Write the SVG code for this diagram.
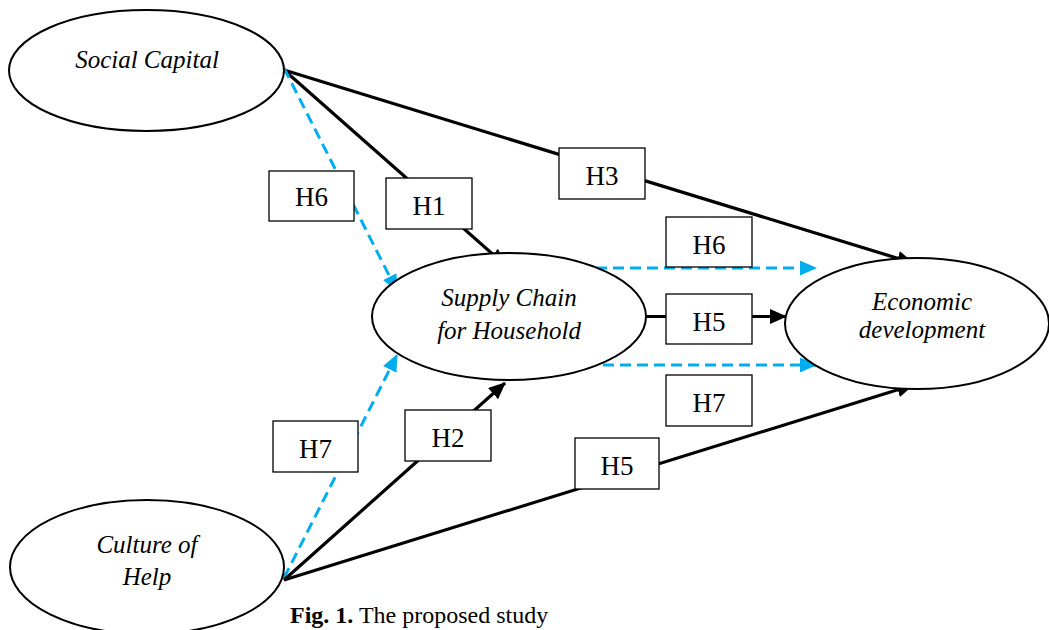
<svg xmlns="http://www.w3.org/2000/svg" width="1049" height="630" viewBox="0 0 1049 630">
<style>
.node ellipse{fill:#fff;stroke:#000;stroke-width:2}
.lbl{font-family:"Liberation Serif","Times New Roman",serif;font-style:italic;font-size:25px;fill:#000;text-anchor:middle}
.box rect{fill:#fff;stroke:#000;stroke-width:1.3}
.box text{font-family:"Liberation Serif","Times New Roman",serif;font-size:27px;fill:#000;text-anchor:middle}
.solid{stroke:#000;stroke-width:3.2;fill:none}
.dash{stroke:#00AEEF;stroke-width:3;fill:none;stroke-dasharray:11 6}
.cap{font-family:"Liberation Serif","Times New Roman",serif;font-size:24px;fill:#000}
</style>
<defs>
<marker id="ab" markerUnits="userSpaceOnUse" markerWidth="18" markerHeight="16" refX="16" refY="7.5" orient="auto"><path d="M0,0 L17,7.5 L0,15 z" fill="#000"/></marker>
<marker id="aw" markerUnits="userSpaceOnUse" markerWidth="18" markerHeight="16" refX="16" refY="7.5" orient="auto"><path d="M0,0 L17,7.5 L0,15 z" fill="#00AEEF"/></marker>
</defs>
<rect width="1049" height="630" fill="#fff"/>
<g id="connectors">
<line class="solid" x1="284" y1="70" x2="913" y2="263" marker-end="url(#ab)"/>
<line class="solid" x1="284" y1="70" x2="505" y2="265" marker-end="url(#ab)"/>
<line class="dash" x1="284" y1="68" x2="397" y2="291" marker-end="url(#aw)"/>
<line class="dash" x1="284" y1="578" x2="397" y2="355" marker-end="url(#aw)"/>
<line class="solid" x1="284" y1="580" x2="505" y2="383" marker-end="url(#ab)"/>
<line class="solid" x1="284" y1="580" x2="913" y2="385" marker-end="url(#ab)"/>
<line class="solid" x1="646" y1="316.5" x2="786" y2="316.5" marker-end="url(#ab)"/>
<line class="dash" x1="596" y1="268" x2="816" y2="268" marker-end="url(#aw)"/>
<line class="dash" x1="603" y1="365" x2="816" y2="365" marker-end="url(#aw)"/>
</g>
<g id="social-capital" class="node">
<ellipse cx="146.5" cy="70.5" rx="137.5" ry="60.5"/>
<text class="lbl" x="147" y="68">Social Capital</text>
</g>
<g id="supply-chain" class="node">
<ellipse cx="509" cy="316.5" rx="137" ry="63.5"/>
<text class="lbl" x="509" y="306">Supply Chain</text>
<text class="lbl" x="509" y="339">for Household</text>
</g>
<g id="economic-development" class="node">
<ellipse cx="917" cy="323.5" rx="132" ry="65.5"/>
<text class="lbl" x="922" y="310">Economic</text>
<text class="lbl" x="922" y="338">development</text>
</g>
<g id="culture-of-help" class="node">
<ellipse cx="147" cy="567" rx="137" ry="67"/>
<text class="lbl" x="147" y="553">Culture of</text>
<text class="lbl" x="147" y="585">Help</text>
</g>
<g id="label-h6-left" class="box"><rect x="269" y="171" width="85" height="50"/><text x="311.5" y="206">H6</text></g>
<g id="label-h1" class="box"><rect x="386" y="178" width="86" height="51"/><text x="429" y="215">H1</text></g>
<g id="label-h3" class="box"><rect x="559" y="148" width="86" height="51"/><text x="602" y="185">H3</text></g>
<g id="label-h6-right" class="box"><rect x="666" y="217" width="86" height="50"/><text x="709" y="254">H6</text></g>
<g id="label-h5-mid" class="box"><rect x="666" y="294" width="86" height="50"/><text x="709" y="331">H5</text></g>
<g id="label-h7-right" class="box"><rect x="666" y="375" width="86" height="51"/><text x="709" y="412">H7</text></g>
<g id="label-h7-left" class="box"><rect x="273" y="421" width="85" height="51"/><text x="315.5" y="458">H7</text></g>
<g id="label-h2" class="box"><rect x="405" y="410" width="86" height="51"/><text x="448" y="447">H2</text></g>
<g id="label-h5-low" class="box"><rect x="575" y="438" width="84" height="51"/><text x="617" y="475">H5</text></g>
<text class="cap" x="290" y="623"><tspan font-weight="bold">Fig. 1.</tspan> The proposed study</text>
</svg>
